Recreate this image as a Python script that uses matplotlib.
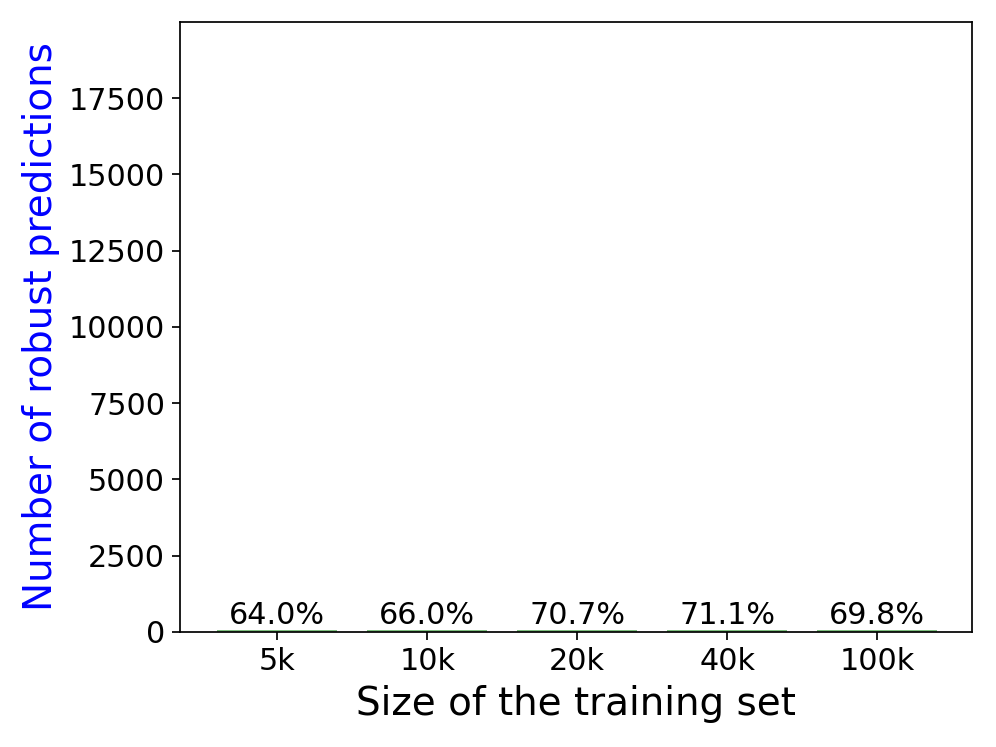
import matplotlib.pyplot as plt

sizes = ['5k', '10k', '20k', '40k', '100k']
robust = [64.0, 66.0, 70.7, 71.1, 69.8]
labels = ['64.0%', '66.0%', '70.7%', '71.1%', '69.8%']

fig = plt.figure(figsize=(6.4, 4.8), dpi=155.625)
ax = fig.add_axes([0.181, 0.154, 0.795, 0.8165])

x = range(len(sizes))
bars = ax.bar(x, robust, width=0.8, color='green', alpha=0.5)
for b, lab in zip(bars, labels):
    ax.text(b.get_x() + b.get_width() / 2, b.get_height(), lab,
            ha='center', va='bottom', fontsize=14)

ax.set_xticks(list(x))
ax.set_xticklabels(sizes, fontsize=14)
ax.tick_params(axis='y', labelsize=14)
ax.set_xlim(-0.647, 4.633)
ax.set_ylim(0, 19990)
ax.set_xlabel('Size of the training set', fontsize=18)
ax.set_ylabel('Number of robust predictions', fontsize=18, color='blue')

plt.savefig('out.png')
